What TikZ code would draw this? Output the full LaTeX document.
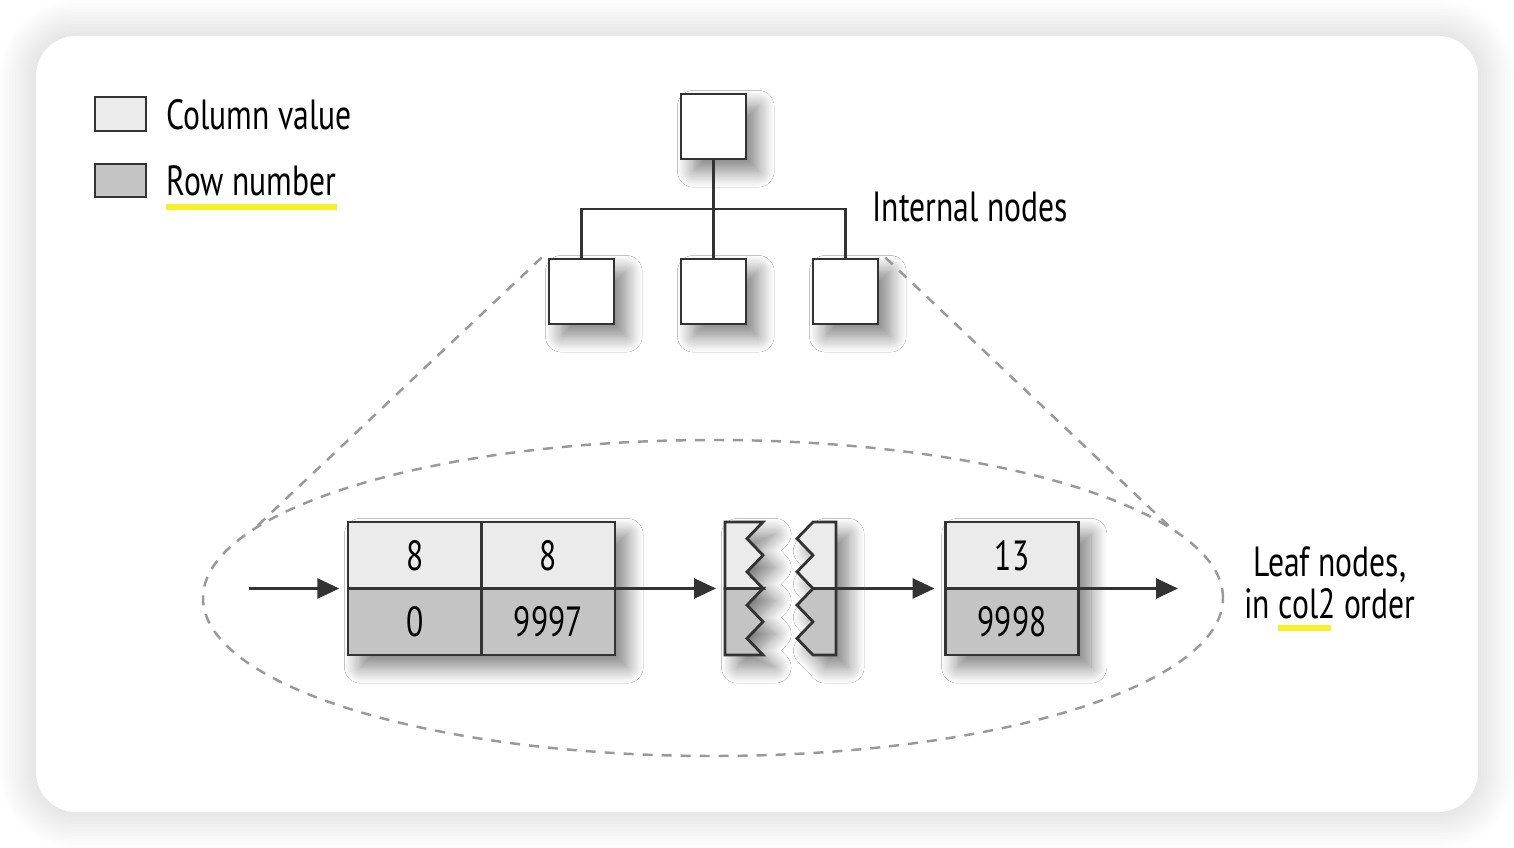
\documentclass[tikz,border=0pt]{standalone}
\usepackage{fontspec}
\setmainfont{PT Sans}[FakeStretch=0.75]
\usetikzlibrary{shapes.geometric,shadows.blur,arrows.meta}

\definecolor{valuegray}{gray}{0.92}
\definecolor{rowgray}{gray}{0.77}
\definecolor{linegray}{gray}{0.2}
\definecolor{markyellow}{RGB}{246,240,40}

\newcommand\labelfont{\fontsize{12}{12}\selectfont}
\newcommand\zigstep{0.16625}
\newcommand\leafcell[5]{
		\node (#1) at (#2,#3) [cell,fill=#4] {#5};
	}

\begin{document}
\begin{tikzpicture}[every path/.style={>={Triangle[length=2.2mm,width=2mm]}},
		box/.style={draw=linegray,line width=0.8pt,fill=white,minimum size=0.65cm,inner sep=0pt},
		cell/.style={draw=linegray,line width=0.8pt,minimum width=1.335cm,minimum height=0.665cm,inner sep=0pt,font=\labelfont},
		soft/.style={blur shadow={shadow xshift=3.5pt,shadow yshift=-3.5pt,shadow blur radius=4.5pt,shadow blur steps=14,shadow opacity=50}},
		link/.style={draw=linegray,line width=0.8pt},
		guide/.style={draw=gray!80,line width=0.7pt,dash pattern=on 1mm off 0.9mm},
		marker/.style={draw=markyellow,line width=1.5pt},
		note/.style={anchor=west,inner sep=0pt,font=\labelfont}]
		\useasboundingbox (0,0) rectangle (15.14,8.48);
	
		% draw card
		\fill[white] (0,0) rectangle (15.14,8.48);
		\foreach \r in {1,...,12}
		{
			\fill[black,opacity=0.008,rounded corners=0.4cm+\r*0.03cm]
				(0.36-\r*0.03,0.36-\r*0.03) rectangle (14.78+\r*0.03,8.12+\r*0.03);
		}
		\fill[white,rounded corners=0.4cm] (0.36,0.36) rectangle (14.78,8.12);
	
		% draw legend
		\node (keyvalue) at (1.205,7.34) [box,fill=valuegray,minimum width=0.51cm,minimum height=0.34cm] {};
		\node (keyrow) at (1.205,6.675) [box,fill=rowgray,minimum width=0.51cm,minimum height=0.33cm] {};
		\node (valuetext) at (1.66,7.33) [note] {Column value};
		\node (rowtext) at (1.66,6.67) [note] {Row number};
		\draw[marker] ([yshift=-0.1cm]rowtext.south west) -- ([yshift=-0.1cm]rowtext.south east);
	
		% draw leaf zone
		\node (leafzone) at (7.13,2.50) [ellipse,guide,minimum width=10.2cm,minimum height=3.16cm,inner sep=0pt] {};
	
		% draw internal nodes
		\node (root) at (7.135,7.215) [box,soft] {};
		\foreach \x/\n in {5.815/i1,7.135/i2,8.455/i3}
		{
			\node (\n) at (\x,5.565) [box,soft] {};
		}
		\coordinate (bus) at (7.135,6.39);
		\draw[link] (root.south) -- (i2.north);
		\foreach \n in {i1,i3}
		{
			\draw[link] (\n.north) |- (bus);
		}
		\node (internaltext) at (8.72,6.41) [note] {Internal nodes};
	
		% draw zoom lines
		\draw[guide] ([xshift=-0.06cm]i1.north west) -- (leafzone.171);
		\draw[guide] ([xshift=0.06cm]i3.north east) -- (leafzone.9);
	
		% draw first leaf node
		\node (leafA) at (4.815,2.595) [minimum width=2.67cm,minimum height=1.33cm,fill=white,soft] {};
		\leafcell{a1}{4.1475}{2.9275}{valuegray}{8}
		\leafcell{a2}{5.4825}{2.9275}{valuegray}{8}
		\leafcell{a3}{4.1475}{2.2625}{rowgray}{0}
		\leafcell{a4}{5.4825}{2.2625}{rowgray}{9997}
	
		% draw torn node
		\path[fill=white,soft] (7.25,3.26) -- (7.63,3.26)
			\foreach \k in {1,...,4} {-- ++(-0.16,-\zigstep) -- ++(0.16,-\zigstep)} -- (7.25,1.93) -- cycle;
		\path[fill=white,soft] (8.36,3.26) -- (8.13,3.26)
			\foreach \k in {1,...,4} {-- ++(-0.16,-\zigstep) -- ++(0.16,-\zigstep)} -- (8.36,1.93) -- cycle;
		\foreach \y/\c in {3.26/valuegray,2.595/rowgray}
		{
			\draw[link,fill=\c] (7.25,\y) -- (7.63,\y) -- ++(-0.16,-\zigstep) -- ++(0.16,-\zigstep)
				-- ++(-0.16,-\zigstep) -- ++(0.16,-\zigstep) -- (7.25,\y-0.665) -- cycle;
			\draw[link,fill=\c] (8.36,\y) -- (8.13,\y) -- ++(-0.16,-\zigstep) -- ++(0.16,-\zigstep)
				-- ++(-0.16,-\zigstep) -- ++(0.16,-\zigstep) -- (8.36,\y-0.665) -- cycle;
		}
		\coordinate (zigL) at (7.25,2.595);
		\coordinate (zigR) at (8.36,2.595);
	
		% draw last leaf node
		\node (leafC) at (10.12,2.595) [minimum width=1.335cm,minimum height=1.33cm,fill=white,soft] {};
		\leafcell{c1}{10.12}{2.9275}{valuegray}{13}
		\leafcell{c2}{10.12}{2.2625}{rowgray}{9998}
	
		% draw leaf links
		\coordinate (start) at (2.49,2.595);
		\coordinate (stop) at (11.78,2.595);
		\draw[link,->,shorten >=0.08cm] (start) -- (leafA.west);
		\draw[link,->,shorten >=0.09cm] (leafA.east) -- (zigL);
		\draw[link,->,shorten >=0.1cm] (zigR) -- (leafC.west);
		\draw[link,->] (leafC.east) -- (stop);
	
		% draw leaf text
		\node (leaftext) at (13.30,2.65) [align=center,inner sep=0pt,font=\labelfont] {Leaf nodes,\\in col2 order};
		\draw[marker] (12.78,2.20) -- (13.31,2.20);
	\end{tikzpicture}
\end{document}
